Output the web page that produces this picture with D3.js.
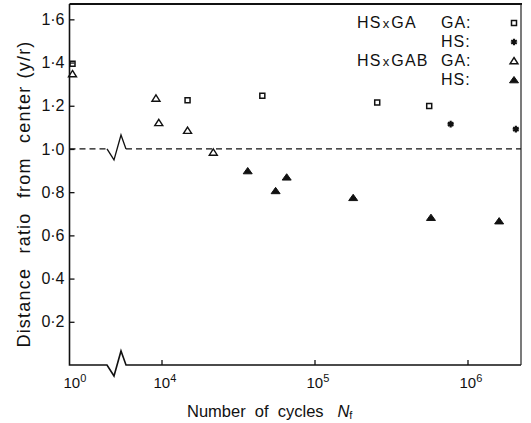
<!DOCTYPE html>
<html>
<head>
<meta charset="utf-8">
<script src="https://cdn.jsdelivr.net/npm/d3@7"></script>
<style>
  body { margin: 0; background: #fff; }
  text { font-family: 'Liberation Sans', Arial, sans-serif; fill: #111; }
</style>
</head>
<body>
<div id="chart"></div>
<script>

// HS x GA specimens
const gaGA_cycles = [ 1, 1.48e4, 4.56e4, 2.57e5, 5.62e5 ];
const gaGA_ratio  = [ 1.395, 1.226, 1.246, 1.215, 1.199 ];
const gaHS_cycles = [ 7.76e5, 2.07e6 ];
const gaHS_ratio  = [ 1.115, 1.092 ];

// HS x GAB specimens
const gabGA_cycles = [ 1, 9.2e3, 9.6e3, 1.48e4, 2.18e4 ];
const gabGA_ratio  = [ 1.347, 1.234, 1.121, 1.085, 0.984 ];
const gabHS_cycles = [ 3.66e4, 5.57e4, 6.58e4, 1.79e5, 5.77e5, 1.61e6 ];
const gabHS_ratio  = [ 0.898, 0.806, 0.869, 0.774, 0.682, 0.666 ];

const yTicks = [ 0.2, 0.4, 0.6, 0.8, 1.0, 1.2, 1.4, 1.6 ];
const xTicks = [ 1e4, 1e5, 1e6 ];
const xLowTick = 1;

const legendGroups = [ 'HS x GA', '', 'HS x GAB', '' ];
const legendLabels = [ 'GA:', 'HS:', 'GA:', 'HS:' ];
const legendKeys = [ 'gaGA', 'gaHS', 'gabGA', 'gabHS' ];

const xAxisTitle = 'Number  of  cycles';
const yAxisTitle = 'Distance  ratio  from  center (y/r)';

const figure_width = 531;
const figure_height = 423;

const plot = { left: 69.5, right: 521, top: 4, bottom: 365 };
const breakX = [ 107, 127 ];

const svg = d3.select( 'div#chart' )
  .append( 'svg' )
    .attr( 'width', figure_width )
    .attr( 'height', figure_height );

// Y scale
const y = d3.scaleLinear()
  .domain( [ 0, 1.671 ] )
  .range( [ plot.bottom, plot.top ] );

// X scales: the axis is broken between 10^0 and ~10^3.8
const xHigh = d3.scaleLog()
  .domain( [ Math.pow( 10, 3.7614 ), Math.pow( 10, 6.3497 ) ] )
  .range( [ breakX[1] - 2, plot.right ] );
const xLow = d3.scaleLog()
  .domain( [ 1, 10 ] )
  .range( [ 71.5, 71.5 + 153 ] );
function x( n ) { return n < 100 ? xLow( n ) : xHigh( n ); }

const fmt = function( d ) { return d.toFixed( 1 ).replace( '.', '\u00b7' ); };

// Y axis ticks + labels
const yAxis = svg.append( 'g' )
  .attr( 'transform', 'translate(' + plot.left + ',0)' )
  .call( d3.axisLeft( y ).tickValues( yTicks ).tickSize( -5 ).tickPadding( 5 ).tickFormat( fmt ) );
yAxis.select( '.domain' ).remove();
yAxis.selectAll( 'line' ).attr( 'stroke', '#111' ).attr( 'stroke-width', 1.3 );
yAxis.selectAll( 'text' ).style( 'font-size', '16px' ).style( 'font-family', "'Liberation Sans', Arial, sans-serif" ).attr( 'fill', '#111' );

// X axis ticks
const xAxis = svg.append( 'g' )
  .attr( 'transform', 'translate(0,' + plot.bottom + ')' )
  .call( d3.axisBottom( xHigh ).tickValues( xTicks ).tickSize( -5 ).tickFormat( '' ) );
xAxis.select( '.domain' ).remove();
xAxis.selectAll( 'line' ).attr( 'stroke', '#111' ).attr( 'stroke-width', 1.3 );

// X tick labels as 10 with superscript power
const xLabelData = [ xLowTick ].concat( xTicks );
const xLabels = svg.append( 'g' )
  .selectAll( 'text' )
  .data( xLabelData )
  .enter()
  .append( 'text' )
    .attr( 'x', function( d ) { return x( d ) - 8; } )
    .attr( 'y', 388 )
    .style( 'font-size', '15px' );
xLabels.append( 'tspan' ).text( '10' );
xLabels.append( 'tspan' )
  .attr( 'dy', -6 )
  .style( 'font-size', '11px' )
  .text( function( d ) { return Math.round( Math.log10( d ) ); } );

// Frame: left, bottom with break, top, right
const zig = function( x0, y0 ) {
  return 'L' + x0 + ',' + y0 +
    'L' + ( x0 + 7 ) + ',' + ( y0 + 11 ) +
    'L' + ( x0 + 14 ) + ',' + ( y0 - 14 ) +
    'L' + ( x0 + 19 ) + ',' + y0;
};
svg.append( 'path' )
  .attr( 'd', 'M' + plot.left + ',' + plot.top + 'L' + plot.left + ',' + plot.bottom +
    zig( breakX[0], plot.bottom ) + 'L' + plot.right + ',' + plot.bottom )
  .attr( 'fill', 'none' )
  .attr( 'stroke', '#111' )
  .attr( 'stroke-width', 1.6 );
svg.append( 'line' )
  .attr( 'x1', plot.left ).attr( 'x2', plot.right + 1 )
  .attr( 'y1', plot.top ).attr( 'y2', plot.top )
  .attr( 'stroke', '#111' ).attr( 'stroke-width', 2.2 );
svg.append( 'line' )
  .attr( 'x1', plot.right ).attr( 'x2', plot.right )
  .attr( 'y1', plot.top ).attr( 'y2', plot.bottom )
  .attr( 'stroke', '#222' ).attr( 'stroke-width', 1.2 );

// Reference line at ratio 1.0 (dashed, with break zigzag)
const y1 = y( 1.0 );
svg.append( 'line' )
  .attr( 'x1', plot.left ).attr( 'x2', breakX[0] )
  .attr( 'y1', y1 ).attr( 'y2', y1 )
  .attr( 'stroke', '#111' ).attr( 'stroke-width', 1.3 ).attr( 'stroke-dasharray', '6,4' );
svg.append( 'path' )
  .attr( 'd', 'M' + breakX[0] + ',' + y1 + zig( breakX[0], y1 ) )
  .attr( 'fill', 'none' ).attr( 'stroke', '#111' ).attr( 'stroke-width', 1.3 );
svg.append( 'line' )
  .attr( 'x1', breakX[0] + 19 ).attr( 'x2', plot.right )
  .attr( 'y1', y1 ).attr( 'y2', y1 )
  .attr( 'stroke', '#111' ).attr( 'stroke-width', 1.3 ).attr( 'stroke-dasharray', '6,4' );

// Marker shapes
const markers = {
  gaGA:  { d: 'M-2.5,-2.5H2.5V2.5H-2.5Z', fill: 'none', sw: 1.5 },
  gaHS:  { d: d3.symbol( d3.symbolAsterisk, 30 )(), fill: 'none', sw: 2.2 },
  gabGA: { d: 'M0,-3.5L4,2.8L-4,2.8Z', fill: 'none', sw: 1.4 },
  gabHS: { d: 'M0,-3.5L4.5,2.8L-4.5,2.8Z', fill: '#111', sw: 1 }
};

const series = [
  { key: 'gaGA',  cycles: gaGA_cycles,  ratio: gaGA_ratio },
  { key: 'gaHS',  cycles: gaHS_cycles,  ratio: gaHS_ratio },
  { key: 'gabGA', cycles: gabGA_cycles, ratio: gabGA_ratio },
  { key: 'gabHS', cycles: gabHS_cycles, ratio: gabHS_ratio }
];

series.forEach( function( s ) {
  const m = markers[ s.key ];
  svg.append( 'g' )
    .selectAll( 'path' )
    .data( s.cycles.map( function( c, i ) { return { c: c, r: s.ratio[ i ] }; } ) )
    .enter()
    .append( 'path' )
      .attr( 'transform', function( d ) { return 'translate(' + ( x( d.c ) + ( d.c < 100 ? 1 : 0 ) ) + ',' + y( d.r ) + ')'; } )
      .attr( 'd', m.d )
      .attr( 'fill', m.fill )
      .attr( 'stroke', '#111' )
      .attr( 'stroke-width', m.sw );
} );

// Legend
const legendY = [ 28, 47, 66, 85 ];
const legend = svg.append( 'g' );
legend.selectAll( 'text.group' )
  .data( legendGroups.map( function( d, i ) { return { t: d, i: i }; } ).filter( function( d ) { return d.t; } ) )
  .enter()
  .append( 'text' )
    .attr( 'x', 357 )
    .attr( 'y', function( d ) { return legendY[ d.i ]; } )
    .style( 'font-size', '16px' )
    .style( 'letter-spacing', '1.2px' )
    .each( function( d ) {
      const parts = d.t.split( ' x ' );
      const t = d3.select( this );
      t.append( 'tspan' ).text( parts[0] );
      t.append( 'tspan' ).attr( 'dx', 1 ).style( 'font-size', '13px' ).text( 'x' );
      t.append( 'tspan' ).attr( 'dx', 1 ).text( parts[1] );
    } );
legend.selectAll( 'text.lab' )
  .data( legendLabels )
  .enter()
  .append( 'text' )
    .attr( 'x', 441 )
    .attr( 'y', function( d, i ) { return legendY[ i ]; } )
    .style( 'font-size', '16px' )
    .style( 'letter-spacing', '1px' )
    .text( function( d ) { return d; } );
legend.selectAll( 'path' )
  .data( legendKeys )
  .enter()
  .append( 'path' )
    .attr( 'transform', function( d, i ) { return 'translate(514,' + ( legendY[ i ] - 5 ) + ')'; } )
    .attr( 'd', function( d ) { return markers[ d ].d; } )
    .attr( 'fill', function( d ) { return markers[ d ].fill; } )
    .attr( 'stroke', '#111' )
    .attr( 'stroke-width', function( d ) { return markers[ d ].sw; } );

// Axis titles
const xTitle = svg.append( 'text' )
  .attr( 'x', 187 )
  .attr( 'y', 417 )
  .style( 'font-size', '16.5px' )
  .style( 'white-space', 'pre' );
xTitle.append( 'tspan' ).text( xAxisTitle + '   ' );
xTitle.append( 'tspan' ).style( 'font-style', 'italic' ).text( 'N' );
xTitle.append( 'tspan' ).attr( 'dy', 2 ).style( 'font-size', '11px' ).text( 'f' );

svg.append( 'g' )
  .attr( 'transform', 'translate(30,194)' )
  .append( 'text' )
    .attr( 'text-anchor', 'middle' )
    .attr( 'transform', 'rotate(-90)' )
    .style( 'font-size', '18px' )
    .style( 'letter-spacing', '1.2px' )
    .style( 'word-spacing', '1px' )
    .style( 'white-space', 'pre' )
    .text( yAxisTitle );

</script>
</body>
</html>
